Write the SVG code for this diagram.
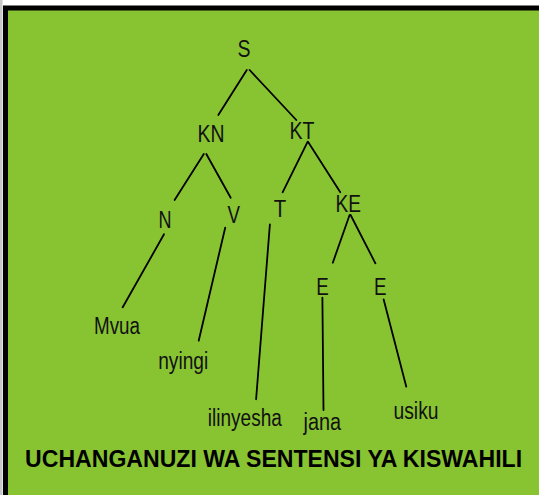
<svg xmlns="http://www.w3.org/2000/svg" width="539" height="495" viewBox="0 0 539 495">
<style>
.lbl{font-family:"Liberation Sans Narrow","Liberation Sans",Arial,sans-serif;font-size:23px;fill:#111;text-anchor:middle}
.ttl{font-family:"Liberation Sans",Arial,sans-serif;font-size:23.5px;font-weight:bold;fill:#000;text-anchor:middle}
.edge{stroke:#000;stroke-width:1.8;fill:none;stroke-linecap:round}
</style>
<rect x="0" y="0" width="539" height="495" fill="#ffffff"/>
<rect x="0" y="0" width="2.5" height="495" fill="#c8c8c8"/>
<rect x="5.5" y="8" width="540" height="500" fill="#88c431" stroke="#000" stroke-width="5"/>
<g id="connectors">
<line class="edge" x1="246.8" y1="70" x2="218.3" y2="115"/>
<line class="edge" x1="249.6" y1="70" x2="296.3" y2="120"/>
<line class="edge" x1="203.8" y1="154" x2="174.6" y2="200"/>
<line class="edge" x1="206.3" y1="154" x2="230.7" y2="197.7"/>
<line class="edge" x1="307.7" y1="141.7" x2="282.6" y2="192.3"/>
<line class="edge" x1="308" y1="141.7" x2="340.3" y2="192.3"/>
<line class="edge" x1="349.6" y1="215" x2="332.8" y2="262.7"/>
<line class="edge" x1="350.6" y1="215" x2="375.4" y2="263.3"/>
<line class="edge" x1="164" y1="234.3" x2="122.7" y2="307.3"/>
<line class="edge" x1="225.2" y1="227.7" x2="198.7" y2="340.7"/>
<line class="edge" x1="269.9" y1="224.3" x2="256.1" y2="399.3"/>
<line class="edge" x1="322.4" y1="297.7" x2="323.5" y2="410"/>
<line class="edge" x1="383.6" y1="299.3" x2="406.3" y2="386.7"/>
</g>
<g id="node-S"><text class="lbl" x="244" y="57.3" textLength="13" lengthAdjust="spacingAndGlyphs">S</text></g>
<g id="node-KN"><text class="lbl" x="211" y="142.3" textLength="27" lengthAdjust="spacingAndGlyphs">KN</text></g>
<g id="node-KT"><text class="lbl" x="302" y="138.5" textLength="25" lengthAdjust="spacingAndGlyphs">KT</text></g>
<g id="node-N"><text class="lbl" x="165" y="228.3" textLength="13" lengthAdjust="spacingAndGlyphs">N</text></g>
<g id="node-V"><text class="lbl" x="233.8" y="223.3" textLength="12.5" lengthAdjust="spacingAndGlyphs">V</text></g>
<g id="node-T"><text class="lbl" x="280" y="216.7" textLength="12.5" lengthAdjust="spacingAndGlyphs">T</text></g>
<g id="node-KE"><text class="lbl" x="348.2" y="211.7" textLength="25.5" lengthAdjust="spacingAndGlyphs">KE</text></g>
<g id="node-E1"><text class="lbl" x="322.6" y="295" textLength="12.5" lengthAdjust="spacingAndGlyphs">E</text></g>
<g id="node-E2"><text class="lbl" x="380.2" y="295" textLength="12.5" lengthAdjust="spacingAndGlyphs">E</text></g>
<g id="node-Mvua"><text class="lbl" x="117" y="334" textLength="46" lengthAdjust="spacingAndGlyphs">Mvua</text></g>
<g id="node-nyingi"><text class="lbl" x="183.2" y="368.5" textLength="50" lengthAdjust="spacingAndGlyphs">nyingi</text></g>
<g id="node-ilinyesha"><text class="lbl" x="244.8" y="426" textLength="74" lengthAdjust="spacingAndGlyphs">ilinyesha</text></g>
<g id="node-jana"><text class="lbl" x="322.3" y="430" textLength="37.5" lengthAdjust="spacingAndGlyphs">jana</text></g>
<g id="node-usiku"><text class="lbl" x="416" y="419.3" textLength="45" lengthAdjust="spacingAndGlyphs">usiku</text></g>
<g id="title"><text class="ttl" x="273.6" y="467.3" textLength="497" lengthAdjust="spacingAndGlyphs">UCHANGANUZI WA SENTENSI YA KISWAHILI</text></g>
</svg>
